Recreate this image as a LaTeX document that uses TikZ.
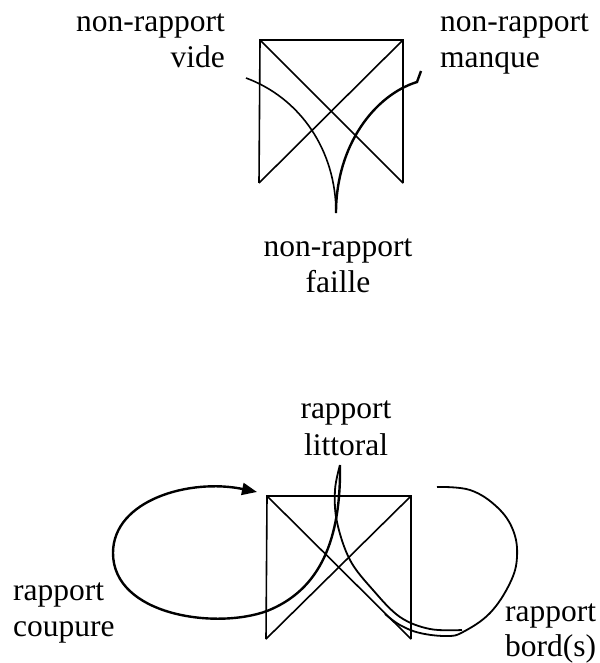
\documentclass[tikz,border=0pt]{standalone}
\usepackage{fontspec}
\setmainfont{Liberation Serif}
\usetikzlibrary{arrows.meta}
\begin{document}
\begin{tikzpicture}[x=1pt,y=-1pt,
  lbl/.style={inner sep=0pt,font=\fontsize{31.5}{36}\selectfont},
  sq/.style={line width=1.6pt,line join=miter},
  thin curve/.style={line width=1.6pt},
  thick curve/.style={line width=2.4pt}]
\useasboundingbox (0,0) rectangle (599,663);
% ---------- top figure ----------
\coordinate (tA) at (260,40);
\coordinate (tB) at (403,40);
\coordinate (tC) at (403,183);
\coordinate (tD) at (259,183);
\draw[sq] (tD) -- (tA) -- (tB) -- (tC);
\draw[sq] (tA) -- (tC);
\draw[sq] (tB) -- (tD);
\coordinate (tL) at (246,78);
\coordinate (tCusp) at (336,213);
\coordinate (tR) at (417,82);
\coordinate (tRh) at (421,71);
\draw[thin curve] (tL) .. controls (300,98) and (336,150) .. (tCusp);
\draw[thick curve] (tCusp) .. controls (336,145) and (375,95) .. (tR) -- (tRh);
\node[lbl,anchor=base east] (vide1) at (225,32) {non-rapport};
\node[lbl,anchor=base east] (vide2) at (225,68) {vide};
\node[lbl,anchor=base west] (manque1) at (440,32) {non-rapport};
\node[lbl,anchor=base west] (manque2) at (440,68) {manque};
\node[lbl,anchor=base] (faille1) at (338,256) {non-rapport};
\node[lbl,anchor=base] (faille2) at (338,292) {faille};
% ---------- bottom figure ----------
\coordinate (bA) at (267,496);
\coordinate (bB) at (411,496);
\coordinate (bC) at (411,639);
\coordinate (bD) at (266,639);
\draw[sq] (bD) -- (bA) -- (bB) -- (bC);
\draw[sq] (bA) -- (bC);
\draw[sq] (bB) -- (bD);
% left loop with arrow
\coordinate (lTop) at (340,465);
\coordinate (lIn) at (267,611);
\coordinate (lLeft) at (113,553);
\coordinate (lTip) at (257,492);
\draw[thick curve,-{Triangle[length=15pt,width=12pt]}]
  (lTop) .. controls (341,540) and (320,590) .. (lIn)
  .. controls (215,630) and (113,615) .. (lLeft)
  .. controls (113,500) and (190,478) .. (lTip);
% littoral strand going down right
\draw[line width=1.8pt]
  plot[smooth,tension=0.6] coordinates {(340,465) (335,490) (337,522) (350,560) (373,590) (400,617) (430,629) (462,630)};
% right loop
\draw[line width=1.8pt]
  plot[smooth,tension=0.65] coordinates {(437,487) (470,490) (497,507) (513,530) (517,557) (510,583) (490,613) (463,632) (447,636) (420,633) (400,625) (385,614)};
\node[lbl,anchor=base] (litt1) at (346,418) {rapport};
\node[lbl,anchor=base] (litt2) at (346,455) {littoral};
\node[lbl,anchor=base west] (coup1) at (13,600) {rapport};
\node[lbl,anchor=base west] (coup2) at (13,636) {coupure};
\node[lbl,anchor=base west] (bord1) at (505,621) {rapport};
\node[lbl,anchor=base west] (bord2) at (505,656) {bord(s)};
\end{tikzpicture}
\end{document}
